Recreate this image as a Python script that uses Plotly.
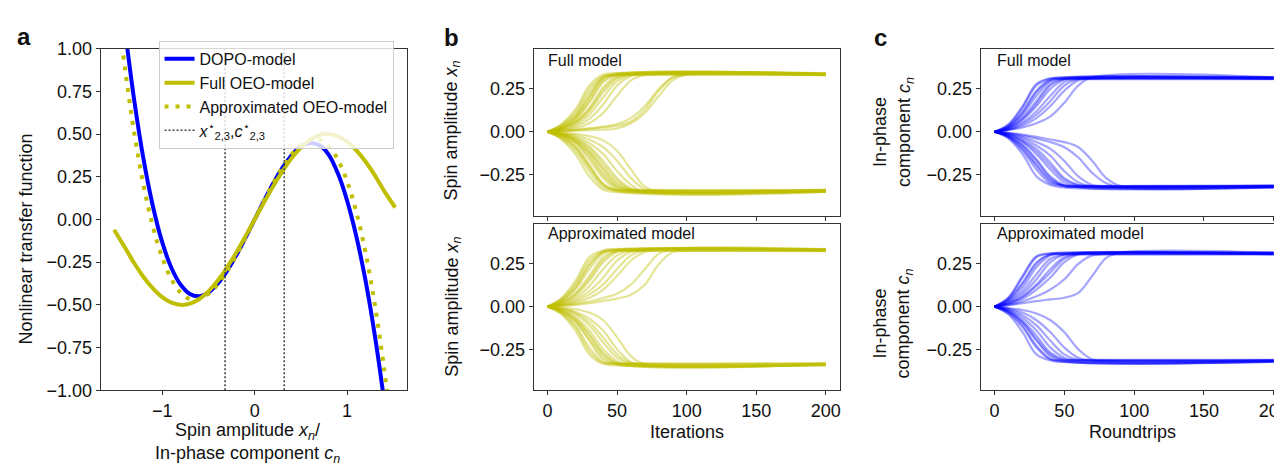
import plotly.graph_objects as go

W, H = 1282, 466
FONT = "Liberation Sans, Arial, sans-serif"
GOLD = "rgb(191,191,0)"
BLUE = "rgb(0,0,255)"
AX = "#333333"

# ---------------- Panel a: nonlinear transfer functions ----------------
X_DOPO = [-1.42, -1.38, -1.3, -1.2, -1.1, -1.0, -0.9, -0.8, -0.7, -0.6, -0.5, -0.4, -0.3, -0.2, -0.1, 0.0,
          0.1, 0.2, 0.3, 0.4, 0.5, 0.6, 0.7, 0.8, 0.9, 1.0, 1.1, 1.2, 1.3, 1.38, 1.42]
Y_DOPO = [1.20, 1.015, 0.688, 0.347, 0.076, -0.133, -0.284, -0.382, -0.436, -0.449, -0.427, -0.376, -0.302,
          -0.211, -0.108, 0.0, 0.108, 0.211, 0.302, 0.376, 0.427, 0.447, 0.434, 0.380, 0.27, 0.11, -0.10,
          -0.36, -0.68, -0.98, -1.15]

X_FULL = [-1.52, -1.4, -1.3, -1.2, -1.1, -1.0, -0.9, -0.785, -0.7, -0.6, -0.5, -0.4, -0.3, -0.2, -0.1, 0.0,
          0.1, 0.2, 0.3, 0.4, 0.5, 0.6, 0.7, 0.785, 0.9, 1.0, 1.1, 1.2, 1.3, 1.4, 1.52]
Y_FULL = [-0.06, -0.167, -0.258, -0.338, -0.404, -0.455, -0.487, -0.50, -0.493, -0.466, -0.421, -0.359,
          -0.282, -0.195, -0.099, 0.0, 0.099, 0.195, 0.282, 0.359, 0.421, 0.466, 0.493, 0.50, 0.487, 0.455,
          0.404, 0.338, 0.258, 0.167, 0.07]

X_APPROX = [-1.45, -1.4, -1.3, -1.2, -1.1, -1.0, -0.9, -0.8, -0.7, -0.6, -0.5, -0.4, -0.3, -0.2, -0.1, 0.0,
            0.1, 0.2, 0.3, 0.4, 0.5, 0.6, 0.7, 0.8, 0.9, 1.0, 1.1, 1.2, 1.3, 1.4, 1.45]
Y_APPROX = [1.088, 0.873, 0.498, 0.195, -0.043, -0.223, -0.350, -0.429, -0.466, -0.467, -0.436, -0.380,
            -0.303, -0.211, -0.108, 0.0, 0.108, 0.211, 0.303, 0.380, 0.436, 0.467, 0.466, 0.429, 0.350,
            0.223, 0.043, -0.195, -0.498, -0.873, -1.088]

X_STAR = [-0.32, 0.32]
A_YTICKS = [-1.0, -0.75, -0.5, -0.25, 0.0, 0.25, 0.5, 0.75, 1.0]
A_XTICKS = [-1, 0, 1]

# ---------------- Panels b, c: trajectories ----------------
ITER_STEPS = [0, 10, 20, 30, 40, 50, 60, 70, 80, 90, 100]
ITER_END = 200
BC_XTICKS = [0, 50, 100, 150, 200]
BC_YTICKS = [-0.25, 0.0, 0.25]

B_FULL = [
    [0, 0.045, 0.13, 0.27, 0.334, 0.342],
    [0, 0.04, 0.115, 0.25, 0.325, 0.330],
    [0, 0.035, 0.10, 0.23, 0.32, 0.338],
    [0, 0.03, 0.085, 0.20, 0.31, 0.331],
    [0, 0.025, 0.07, 0.17, 0.29, 0.333, 0.340],
    [0, 0.02, 0.06, 0.14, 0.26, 0.325, 0.333],
    [0, 0.016, 0.05, 0.12, 0.23, 0.31, 0.336],
    [0, 0.013, 0.04, 0.10, 0.20, 0.295, 0.332, 0.334],
    [0, 0.01, 0.03, 0.075, 0.16, 0.27, 0.325, 0.341],
    [0, 0.008, 0.02, 0.05, 0.11, 0.21, 0.30, 0.330],
    [0, 0.005, 0.012, 0.02, 0.03, 0.045, 0.08, 0.15, 0.25, 0.32, 0.337],
    [0, 0.003, 0.006, 0.01, 0.012, 0.02, 0.05, 0.11, 0.21, 0.30, 0.335],
    [0, 0.004, 0.01, 0.018, 0.025, 0.035, 0.06, 0.13, 0.24, 0.315, 0.333],
    [0, 0.02, 0.075, 0.18, 0.30, 0.335],
    [0, 0.028, 0.09, 0.21, 0.315, 0.339],
    [0, 0.018, 0.055, 0.13, 0.245, 0.318, 0.332],
    [0, -0.045, -0.13, -0.26, -0.338, -0.351],
    [0, -0.04, -0.11, -0.23, -0.325, -0.339],
    [0, -0.035, -0.095, -0.21, -0.31, -0.347],
    [0, -0.03, -0.08, -0.19, -0.30, -0.34, -0.340],
    [0, -0.025, -0.065, -0.16, -0.27, -0.335, -0.349],
    [0, -0.02, -0.055, -0.13, -0.24, -0.32, -0.342],
    [0, -0.016, -0.045, -0.11, -0.21, -0.30, -0.34, -0.345],
    [0, -0.013, -0.035, -0.085, -0.17, -0.27, -0.33, -0.343],
    [0, -0.01, -0.028, -0.065, -0.13, -0.23, -0.31, -0.350],
    [0, -0.008, -0.02, -0.045, -0.09, -0.17, -0.27, -0.335, -0.339],
    [0, -0.005, -0.012, -0.025, -0.05, -0.11, -0.22, -0.32, -0.346],
    [0, -0.015, -0.05, -0.12, -0.22, -0.31, -0.344],
    [0, -0.025, -0.09, -0.20, -0.31, -0.341],
    [0, -0.012, -0.04, -0.095, -0.19, -0.285, -0.335, -0.348],
    [0, -0.018, -0.06, -0.145, -0.255, -0.325, -0.343],
]

B_APPROX = [
    [0, 0.05, 0.15, 0.29, 0.33, 0.337],
    [0, 0.04, 0.12, 0.25, 0.32, 0.325],
    [0, 0.035, 0.10, 0.22, 0.31, 0.333],
    [0, 0.025, 0.08, 0.18, 0.29, 0.328, 0.326],
    [0, 0.02, 0.065, 0.15, 0.26, 0.32, 0.335],
    [0, 0.015, 0.05, 0.12, 0.22, 0.30, 0.328],
    [0, 0.012, 0.04, 0.09, 0.17, 0.27, 0.32, 0.331],
    [0, 0.01, 0.03, 0.07, 0.13, 0.22, 0.30, 0.329],
    [0, 0.006, 0.015, 0.03, 0.05, 0.075, 0.13, 0.22, 0.31, 0.336],
    [0, 0.004, 0.01, 0.02, 0.033, 0.047, 0.07, 0.13, 0.25, 0.32, 0.327],
    [0, 0.03, 0.11, 0.24, 0.32, 0.332],
    [0, 0.045, 0.135, 0.27, 0.325, 0.334],
    [0, 0.022, 0.07, 0.165, 0.275, 0.325, 0.330],
    [0, 0.008, 0.022, 0.05, 0.10, 0.18, 0.27, 0.32, 0.333],
    [0, -0.045, -0.14, -0.28, -0.335, -0.344],
    [0, -0.035, -0.11, -0.24, -0.325, -0.332],
    [0, -0.03, -0.09, -0.20, -0.31, -0.340],
    [0, -0.025, -0.075, -0.17, -0.28, -0.333, -0.333],
    [0, -0.02, -0.06, -0.14, -0.25, -0.32, -0.342],
    [0, -0.015, -0.045, -0.11, -0.21, -0.30, -0.335],
    [0, -0.01, -0.03, -0.07, -0.14, -0.25, -0.325, -0.338],
    [0, -0.006, -0.015, -0.035, -0.08, -0.18, -0.29, -0.336],
    [0, -0.02, -0.07, -0.16, -0.27, -0.33, -0.343],
    [0, -0.04, -0.12, -0.26, -0.33, -0.334],
    [0, -0.012, -0.038, -0.09, -0.18, -0.28, -0.33, -0.339],
    [0, -0.028, -0.085, -0.19, -0.295, -0.337],
]

C_FULL = [
    [0, 0.04, 0.14, 0.27, 0.31, 0.319],
    [0, 0.035, 0.12, 0.24, 0.305, 0.307],
    [0, 0.03, 0.10, 0.21, 0.295, 0.315],
    [0, 0.025, 0.085, 0.18, 0.28, 0.31, 0.308],
    [0, 0.02, 0.07, 0.15, 0.25, 0.305, 0.317],
    [0, 0.017, 0.055, 0.12, 0.21, 0.29, 0.310],
    [0, 0.014, 0.045, 0.10, 0.18, 0.27, 0.308, 0.313],
    [0, 0.012, 0.035, 0.08, 0.15, 0.24, 0.30, 0.311],
    [0, 0.01, 0.025, 0.05, 0.09, 0.17, 0.27, 0.318],
    [0, 0.03, 0.11, 0.23, 0.30, 0.309],
    [0, 0.045, 0.15, 0.28, 0.312, 0.314],
    [0, 0.022, 0.075, 0.165, 0.27, 0.308, 0.316],
    [0, -0.04, -0.13, -0.26, -0.31, -0.325],
    [0, -0.035, -0.11, -0.22, -0.30, -0.313],
    [0, -0.03, -0.09, -0.19, -0.28, -0.315, -0.321],
    [0, -0.025, -0.075, -0.16, -0.26, -0.31, -0.314],
    [0, -0.02, -0.06, -0.13, -0.22, -0.295, -0.323],
    [0, -0.016, -0.048, -0.10, -0.18, -0.27, -0.31, -0.316],
    [0, -0.013, -0.038, -0.08, -0.14, -0.23, -0.295, -0.319],
    [0, -0.01, -0.03, -0.06, -0.10, -0.17, -0.26, -0.31, -0.317],
    [0, -0.008, -0.022, -0.04, -0.06, -0.09, -0.15, -0.24, -0.30, -0.324],
    [0, -0.006, -0.016, -0.03, -0.045, -0.06, -0.09, -0.17, -0.27, -0.315, -0.315],
    [0, -0.025, -0.08, -0.17, -0.27, -0.315, -0.320],
    [0, -0.018, -0.055, -0.115, -0.20, -0.28, -0.312, -0.318],
    [0, -0.03, -0.1, -0.2, -0.29, -0.318, -0.322],
]

C_APPROX = [
    [0, 0.05, 0.17, 0.29, 0.31, 0.317],
    [0, 0.045, 0.14, 0.26, 0.305, 0.305],
    [0, 0.035, 0.11, 0.23, 0.30, 0.313],
    [0, 0.03, 0.09, 0.19, 0.28, 0.306],
    [0, 0.025, 0.075, 0.16, 0.26, 0.305, 0.315],
    [0, 0.02, 0.06, 0.13, 0.22, 0.29, 0.308],
    [0, 0.015, 0.045, 0.10, 0.17, 0.26, 0.305, 0.311],
    [0, 0.01, 0.03, 0.06, 0.10, 0.16, 0.25, 0.30, 0.309],
    [0, 0.008, 0.02, 0.032, 0.042, 0.052, 0.08, 0.18, 0.285, 0.316],
    [0, 0.04, 0.13, 0.25, 0.305, 0.307],
    [0, 0.055, 0.18, 0.295, 0.312, 0.312],
    [0, 0.018, 0.055, 0.12, 0.2, 0.28, 0.31, 0.310],
    [0, -0.045, -0.15, -0.28, -0.315, -0.324],
    [0, -0.04, -0.12, -0.24, -0.31, -0.312],
    [0, -0.03, -0.095, -0.20, -0.29, -0.320],
    [0, -0.025, -0.08, -0.17, -0.27, -0.31, -0.313],
    [0, -0.02, -0.065, -0.14, -0.24, -0.30, -0.322],
    [0, -0.016, -0.05, -0.11, -0.20, -0.28, -0.312, -0.315],
    [0, -0.012, -0.035, -0.08, -0.15, -0.24, -0.30, -0.318],
    [0, -0.008, -0.02, -0.04, -0.08, -0.15, -0.25, -0.31, -0.316],
    [0, -0.035, -0.11, -0.23, -0.305, -0.323],
    [0, -0.028, -0.09, -0.19, -0.28, -0.314, -0.317],
]


def fx(px):
    return px / W


def fy(py):
    return 1 - py / H


fig = go.Figure()

# Panel a curves
fig.add_trace(go.Scatter(x=X_DOPO, y=Y_DOPO, mode="lines", name="DOPO-model",
                         line=dict(color=BLUE, width=4, shape="spline", smoothing=1.0),
                         xaxis="x", yaxis="y"))
fig.add_trace(go.Scatter(x=X_FULL, y=Y_FULL, mode="lines", name="Full OEO-model",
                         line=dict(color=GOLD, width=4, shape="spline", smoothing=1.0),
                         xaxis="x", yaxis="y"))
fig.add_trace(go.Scatter(x=X_APPROX, y=Y_APPROX, mode="lines", name="Approximated OEO-model",
                         line=dict(color=GOLD, width=4, dash="4px,7px", shape="spline", smoothing=1.0),
                         xaxis="x", yaxis="y"))
vx, vy = [], []
for xs in X_STAR:
    vx += [xs, xs, None]
    vy += [A_YTICKS[0], A_YTICKS[-1], None]
fig.add_trace(go.Scatter(x=vx, y=vy, mode="lines",
                         name="<i>x</i><sup>⋆</sup><sub>2,3</sub>,<i>c</i><sup>⋆</sup><sub>2,3</sub>",
                         line=dict(color="#444444", width=1.6, dash="2px,2px"),
                         xaxis="x", yaxis="y"))


def add_swarm(trajs, color, xa, ya, op):
    for vals in trajs:
        xs = ITER_STEPS[:len(vals)] + [ITER_END]
        ys = list(vals) + [vals[-1]]
        fig.add_trace(go.Scatter(x=xs, y=ys, mode="lines", showlegend=False, hoverinfo="skip",
                                 opacity=op,
                                 line=dict(color=color, width=2.2, shape="spline", smoothing=1.0),
                                 xaxis=xa, yaxis=ya))


add_swarm(B_FULL, GOLD, "x2", "y2", 0.4)
add_swarm(B_APPROX, GOLD, "x3", "y3", 0.4)
add_swarm(C_FULL, BLUE, "x4", "y4", 0.35)
add_swarm(C_APPROX, BLUE, "x5", "y5", 0.35)

tickfont = dict(family=FONT, size=18, color="#111111")
common = dict(showline=True, mirror=True, linecolor=AX, linewidth=1, ticks="outside", ticklen=4,
              tickcolor=AX, tickwidth=1, showgrid=False, zeroline=False, tickfont=tickfont)

yr_bc = [-0.49, 0.485]
layout = dict(
    width=W, height=H, margin=dict(l=0, r=0, t=0, b=0),
    paper_bgcolor="white", plot_bgcolor="white",
    font=dict(family=FONT, size=16, color="#111111"),
    xaxis=dict(domain=[fx(93), fx(400)], range=[-1.665, 1.645], tickvals=A_XTICKS, anchor="y", **common),
    yaxis=dict(domain=[fy(389), fy(32)], range=[-1, 1], tickvals=A_YTICKS, tickformat=".2f",
               anchor="x", **common),
    xaxis2=dict(domain=[fx(527.3), fx(834.3)], range=[-10, 210], tickvals=BC_XTICKS,
                showticklabels=False, anchor="y2", **common),
    yaxis2=dict(domain=[fy(206.7), fy(32)], range=yr_bc, tickvals=BC_YTICKS, tickformat=".2f",
                anchor="x2", **common),
    xaxis3=dict(domain=[fx(527.3), fx(834.3)], range=[-10, 210], tickvals=BC_XTICKS, anchor="y3", **common),
    yaxis3=dict(domain=[fy(389), fy(215)], range=yr_bc, tickvals=BC_YTICKS, tickformat=".2f",
                anchor="x3", **common),
    xaxis4=dict(domain=[fx(975.7), fx(1281)], range=[-10, 208.1], tickvals=BC_XTICKS,
                showticklabels=False, anchor="y4", **common),
    yaxis4=dict(domain=[fy(206.7), fy(32)], range=yr_bc, tickvals=BC_YTICKS, tickformat=".2f",
                anchor="x4", **common),
    xaxis5=dict(domain=[fx(975.7), fx(1281)], range=[-10, 208.1], tickvals=BC_XTICKS, anchor="y5",
                ticklabeloverflow="allow", **common),
    yaxis5=dict(domain=[fy(389), fy(215)], range=yr_bc, tickvals=BC_YTICKS, tickformat=".2f",
                anchor="x5", **common),
    legend=dict(x=fx(151), y=fy(24), xanchor="left", yanchor="top",
                bgcolor="rgba(255,255,255,0.8)", bordercolor="#cccccc", borderwidth=1,
                font=dict(family=FONT, size=16, color="#111111"), tracegroupgap=0),
    showlegend=True,
)
fig.update_layout(**layout)


def ann(text, px, py, size=18, angle=0, xanchor="center", bold=False):
    if bold:
        text = "<b>" + text + "</b>"
    fig.add_annotation(text=text, x=fx(px), y=fy(py), xref="paper", yref="paper",
                       xanchor=xanchor, yanchor="middle", showarrow=False, textangle=angle,
                       font=dict(family=FONT, size=size, color="#111111"))


# panel letters
ann("a", 16, 19, size=24, bold=True)
ann("b", 445, 20, size=24, bold=True)
ann("c", 875, 20, size=24, bold=True)

# panel a titles
ann("Nonlinear transfer function", 18.5, 231, angle=-90)
ann("Spin amplitude <i>x<sub>n</sub></i>/<br>In-phase component <i>c<sub>n</sub></i>", 240, 444)

# panel b titles
ann("Spin amplitude <i>x<sub>n</sub></i>", 446, 118, angle=-90)
ann("Spin amplitude <i>x<sub>n</sub></i>", 446, 302, angle=-90)
ann("Iterations", 681, 433)
ann("Full model", 540, 44, size=16, xanchor="left")
ann("Approximated model", 540, 225, size=16, xanchor="left")

# panel c titles
ann("In-phase<br>component <i>c<sub>n</sub></i>", 888, 119, angle=-90)
ann("In-phase<br>component <i>c<sub>n</sub></i>", 888, 319, angle=-90)
ann("Roundtrips", 1128, 433)
ann("Full model", 990, 44, size=16, xanchor="left")
ann("Approximated model", 990, 225, size=16, xanchor="left")

fig.write_html("out.html")
